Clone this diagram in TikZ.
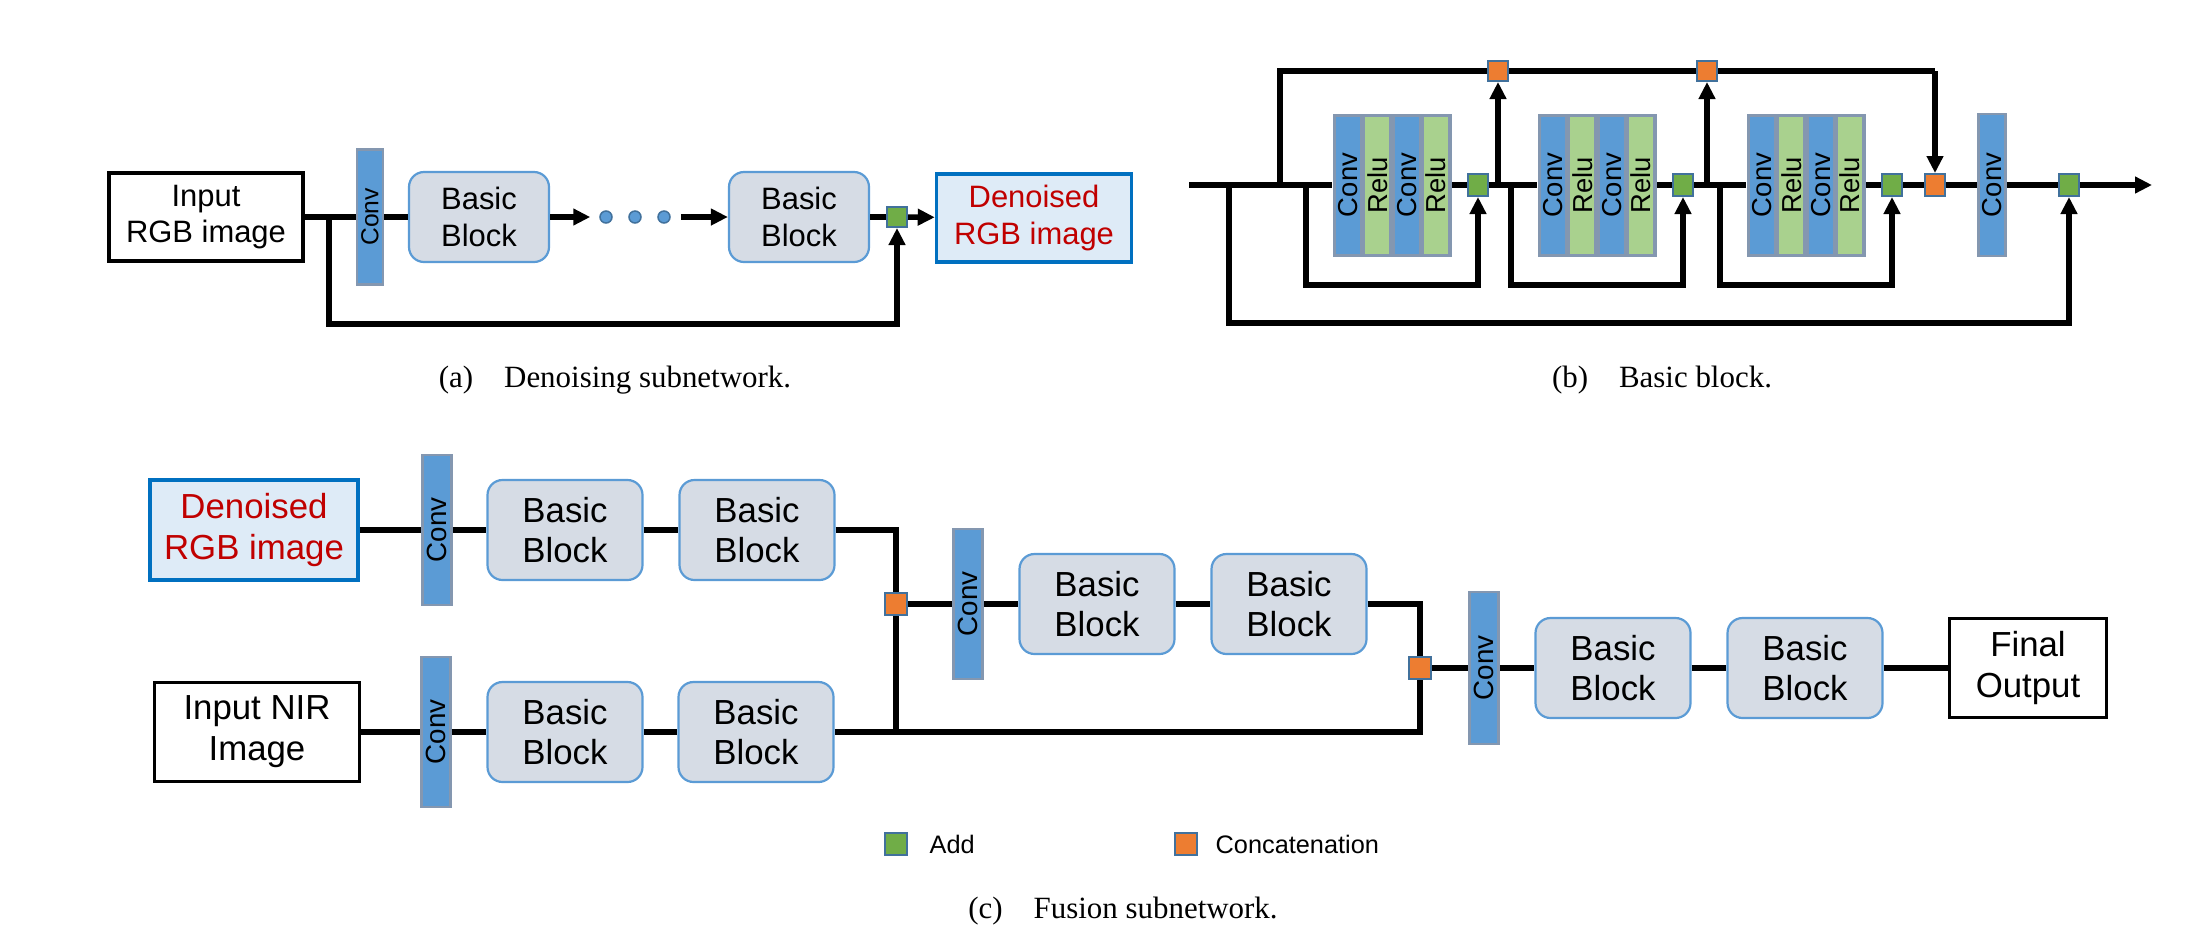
\documentclass[tikz,border=0pt]{standalone}
\usepackage{fontspec}
\setmainfont{Liberation Serif}
\setsansfont{Liberation Sans}
\usepackage{tikz}
\usetikzlibrary{arrows.meta,positioning}

\definecolor{convblue}{HTML}{5B9BD5}
\definecolor{convedge}{HTML}{8497B0}
\definecolor{relugreen}{HTML}{A9D18E}
\definecolor{bbfill}{HTML}{D6DCE5}
\definecolor{addgreen}{HTML}{70AD47}
\definecolor{catorange}{HTML}{ED7D31}
\definecolor{sqedge}{HTML}{41719C}
\definecolor{denfill}{HTML}{DEEBF7}
\definecolor{denedge}{HTML}{0070C0}
\definecolor{denred}{HTML}{C00000}

\newcommand{\vtext}[1]{\rotatebox{90}{#1}}

\begin{document}
\begin{tikzpicture}[x=0.1mm,y=-0.1mm,
    >={Triangle[length=1.7mm,width=1.6mm]},
    wire/.style={line width=0.55mm},
    bblock/.style={draw=convblue,fill=bbfill,line width=0.22mm,rounded corners=1.5mm,
        align=center,inner sep=0,minimum width=14mm,minimum height=9mm,
        font=\sffamily\fontsize{8.8}{10.4}\selectfont},
    bigblock/.style={bblock,minimum width=15.5mm,minimum height=10mm,
        font=\sffamily\fontsize{9.9}{11.6}\selectfont},
    iobox/.style={draw,line width=0.35mm,fill=white,align=center,inner sep=0,
        font=\sffamily\fontsize{8.8}{10.4}\selectfont},
    denbox/.style={iobox,draw=denedge,fill=denfill,text=denred},
    conv/.style={draw=convedge,fill=convblue,line width=0.25mm,inner sep=0,
        minimum width=2.6mm,minimum height=13.5mm,font=\sffamily\fontsize{7}{8}\selectfont},
    bigconv/.style={conv,minimum width=2.9mm,minimum height=15mm,
        font=\sffamily\fontsize{7.9}{9}\selectfont},
    strip/.style={inner sep=0,minimum width=2.4mm,minimum height=13.7mm,
        font=\sffamily\fontsize{7.8}{8.8}\selectfont},
    grp/.style={fill=convedge,inner sep=0,minimum width=11.9mm,minimum height=14.3mm},
    addsq/.style={draw=sqedge,fill=addgreen,line width=0.2mm,inner sep=0,minimum size=2mm},
    catsq/.style={addsq,fill=catorange},
    dot/.style={circle,draw=sqedge,fill=convblue,line width=0.15mm,inner sep=0,minimum size=1.2mm},
    legtext/.style={inner sep=0,font=\sffamily\fontsize{7.2}{8.5}\selectfont},
    captext/.style={inner sep=0,anchor=base,font=\fontsize{8.8}{10.6}\selectfont}]

    \useasboundingbox (0,0) rectangle (2201,951);

    % (a) denoising subnetwork
    \node[iobox,minimum width=19.4mm,minimum height=8.8mm] (inA) at (206,217) {Input\\RGB image};
    \node[conv] (convA) at (370,217) {\vtext{Conv}};
    \node[bblock] (bbA1) at (479,217) {Basic\\Block};
    \node[dot] (d1) at (606,217) {};
    \node[dot] (d2) at (635,217) {};
    \node[dot] (d3) at (664,217) {};
    \node[bblock] (bbA2) at (799,217) {Basic\\Block};
    \node[addsq] (addA) at (897,217) {};
    \node[denbox,minimum width=19.5mm,minimum height=8.8mm] (outA) at (1034,218) {Denoised\\RGB image};
    \coordinate (brA) at (329,217);
    \coordinate (lowA) at (329,324);

    \draw[wire] (inA) -- (convA) -- (bbA1);
    \draw[wire,->,shorten >=0.9mm] (bbA1) -- (d1);
    \draw[wire,->,shorten <=1mm] (d3) -- (bbA2);
    \draw[wire] (bbA2) -- (addA);
    \draw[wire,->] (addA) -- (outA);
    \draw[wire,->] (brA) -- (lowA) -| (addA);

    % (b) basic block
    \coordinate (bIn) at (1189,185);
    \coordinate (bOut) at (2152,185);
    \foreach \bx/\i in {1392/1,1597/2,1806/3} {
        \node[grp] (blk\i) at (\bx,185) {};
        \node[strip,fill=convblue] at ({\bx-44},185) {\vtext{Conv}};
        \node[strip,fill=relugreen] at ({\bx-14.7},185) {\vtext{Relu}};
        \node[strip,fill=convblue] at ({\bx+14.7},185) {\vtext{Conv}};
        \node[strip,fill=relugreen] at ({\bx+44},185) {\vtext{Relu}};
        \node[addsq,minimum height=2.2mm] (add\i) at ({\bx+86},185) {};
        \coordinate (s\i) at ({\bx-86},185);
    }
    \node[catsq] (cat1) at (1498,71) {};
    \node[catsq] (cat2) at (1707,71) {};
    \node[catsq,minimum height=2.2mm] (cat3) at (1935,185) {};
    \node[conv,minimum width=2.7mm,minimum height=14.2mm,
        font=\sffamily\fontsize{7.8}{8.8}\selectfont] (convB) at (1992,185) {\vtext{Conv}};
    \node[addsq,minimum height=2.2mm] (add4) at (2069,185) {};
    \coordinate (j0) at (1229,185);
    \coordinate (j0b) at (1229,323);
    \coordinate (j1) at (1280,185);
    \coordinate (topL) at (1280,71);
    \coordinate (topR) at (1935,71);

    \draw[wire] (bIn) -- (blk1) -- (add1) -- (blk2) -- (add2) -- (blk3) -- (add3) -- (cat3) -- (convB) -- (add4);
    \draw[wire,->] (add4) -- (bOut);
    \draw[wire,->] (j0) -- (j0b) -| (add4);
    \draw[wire] (j1) -- (topL) -- (cat1) -- (cat2) -- (topR);
    \draw[wire,->] (topR) -- (cat3);
    \draw[wire,->] (cat1 |- bIn) -- (cat1);
    \draw[wire,->] (cat2 |- bIn) -- (cat2);
    \foreach \i in {1,2,3} {
        \draw[wire,->] (s\i) -- ++(0,100) -| (add\i);
    }

    % (c) fusion subnetwork
    \node[denbox,minimum width=20.8mm,minimum height=10mm,
        font=\sffamily\fontsize{9.9}{11.6}\selectfont] (denC) at (254,530) {Denoised\\RGB image};
    \node[bigconv] (convC1) at (437,530) {\vtext{Conv}};
    \node[bigblock] (bbC1) at (565,530) {Basic\\Block};
    \node[bigblock] (bbC2) at (757,530) {Basic\\Block};
    \node[iobox,minimum width=20.5mm,minimum height=9.9mm,
        font=\sffamily\fontsize{9.9}{11.6}\selectfont] (nirC) at (257,732) {Input NIR\\Image};
    \node[bigconv] (convC2) at (436,732) {\vtext{Conv}};
    \node[bigblock] (bbC3) at (565,732) {Basic\\Block};
    \node[bigblock] (bbC4) at (756,732) {Basic\\Block};
    \node[catsq,minimum size=2.2mm] (catC1) at (896,604) {};
    \node[bigconv] (convC3) at (968,604) {\vtext{Conv}};
    \node[bigblock] (bbC5) at (1097,604) {Basic\\Block};
    \node[bigblock] (bbC6) at (1289,604) {Basic\\Block};
    \node[catsq,minimum size=2.2mm] (catC2) at (1420,668) {};
    \node[bigconv,minimum height=15.2mm] (convC4) at (1484,668) {\vtext{Conv}};
    \node[bigblock] (bbC7) at (1613,668) {Basic\\Block};
    \node[bigblock] (bbC8) at (1805,668) {Basic\\Block};
    \node[iobox,minimum width=15.7mm,minimum height=9.9mm,
        font=\sffamily\fontsize{9.9}{11.6}\selectfont] (finC) at (2028,668) {Final\\Output};

    \draw[wire] (denC) -- (convC1) -- (bbC1) -- (bbC2) -| (catC1);
    \draw[wire] (nirC) -- (convC2) -- (bbC3) -- (bbC4) -| (catC2);
    \draw[wire] (catC1 |- bbC4) -- (catC1);
    \draw[wire] (catC1) -- (convC3) -- (bbC5) -- (bbC6) -| (catC2);
    \draw[wire] (catC2) -- (convC4) -- (bbC7) -- (bbC8) -- (finC);

    % legend
    \node[addsq,minimum size=2.2mm] (lgAdd) at (896,844) {};
    \node[legtext,right=2.1mm of lgAdd] (lgAddT) {Add};
    \node[catsq,minimum size=2.2mm] (lgCat) at (1186,844) {};
    \node[legtext,right=1.7mm of lgCat] (lgCatT) {Concatenation};

    % captions
    \node[captext] (capA) at (615,387) {(a)\quad Denoising subnetwork.};
    \node[captext] (capB) at (1662,387) {(b)\quad Basic block.};
    \node[captext] (capC) at (1123,918) {(c)\quad Fusion subnetwork.};
\end{tikzpicture}
\end{document}
